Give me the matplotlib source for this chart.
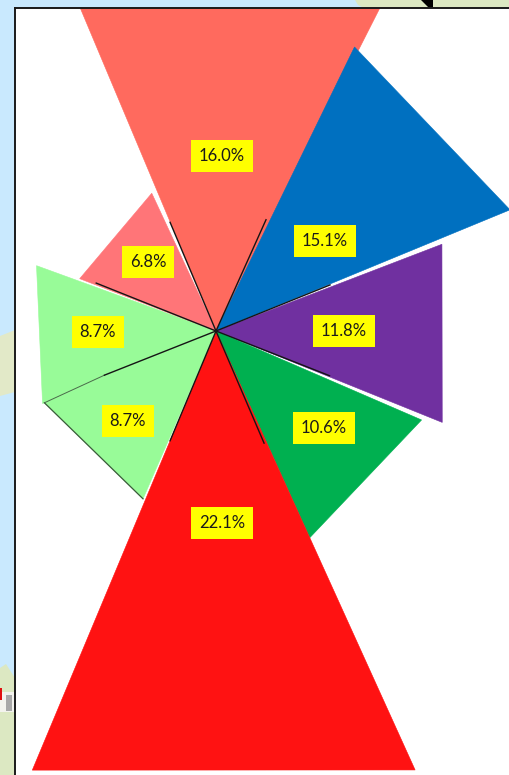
"""Triangular rose chart on top of a map fragment"""

import numpy as np
import matplotlib
matplotlib.use('Agg')
import matplotlib.pyplot as plt
from matplotlib.patches import Polygon, Rectangle

# wedge data, clockwise from the top wedge
share_labels = ['16.0%', '15.1%', '11.8%', '10.6%', '22.1%', '8.7%', '8.7%', '6.8%']
angle_start = [-22.8, 26.0, 69.0, 113.4, 155.6, 203.5, 247.3, 291.0]
angle_end = [26.9, 67.6, 112.0, 155.6, 202.7, 247.3, 290.0, 335.0]
radius_start = [350, 316, 242, 224, 482, 183, 188, 146]
radius_end = [362, 318, 244, 227, 476, 186, 191, 152]
wedge_colors = ['#FF6A5E', '#0070C0', '#7030A0', '#00B050', '#FF1212', '#98FB98', '#98FB98', '#FF7578']

# where the yellow labels sit
label_x = [222, 325, 344, 324, 222, 128, 98, 148]
label_y = [155, 240, 330, 427, 522, 420, 331, 261]

# short black spokes out of the centre
spoke_angles = [-22.9, 24.2, 68.0, 111.5, 156.8, 202.7, 248.4, 291.8]
spoke_lengths = [118, 122, 123, 122, 122, 119, 120, 129]

center = (216, 331)


def polar_point(angle, radius):
    a = np.radians(angle)
    return center[0] + radius * np.sin(a), center[1] - radius * np.cos(a)


fig = plt.figure(figsize=(5.10, 7.75), dpi=100)

# map behind the panel
bg = fig.add_axes([0, 0, 1, 1])
bg.set_xlim(0, 510)
bg.set_ylim(775, 0)
bg.axis('off')
bg.add_patch(Rectangle((0, 0), 510, 775, color='#C9E9FE', lw=0))
land = '#DCE8C2'
bg.add_patch(Polygon([(355, 0), (510, 0), (510, 10), (368, 10), (358, 5)], color=land, lw=0))
bg.add_patch(Polygon([(0, 336), (15, 330), (15, 392), (0, 396)], color='#E2E9C8', lw=0))
bg.add_patch(Polygon([(0, 668), (6, 664), (15, 678), (15, 775), (0, 775)], color=land, lw=0))
bg.add_patch(Rectangle((0, 692), 15, 20, color='#F3F3EE', lw=0))
bg.add_patch(Rectangle((6, 695), 6, 16, color='#A8A8A8', lw=0))
bg.add_patch(Rectangle((0, 688), 2, 12, color='#E01010', lw=0))
bg.add_patch(Polygon([(421, 0), (433, 0), (433, 9), (430, 9)], color='black', lw=0))

# white panel with the wedges
ax = fig.add_axes([15 / 510, 0, 495 / 510, 767 / 775])
ax.set_xlim(15, 510)
ax.set_ylim(775, 8)
ax.set_xticks([])
ax.set_yticks([])
for side in ['right', 'bottom']:
    ax.spines[side].set_visible(False)
for side in ['left', 'top']:
    ax.spines[side].set_linewidth(1.4)
    ax.spines[side].set_color('#1a1a1a')

for a0, a1, r0, r1, col in zip(angle_start, angle_end, radius_start, radius_end, wedge_colors):
    pts = [center, polar_point(a0, r0), polar_point(a1, r1)]
    ax.add_patch(Polygon(pts, closed=True, facecolor=col, edgecolor=col, lw=0.4, zorder=2))

# dark outer edge of the lower light green wedge
ax.plot(*zip(polar_point(angle_start[5], radius_start[5]), polar_point(angle_end[5], radius_end[5])),
        color='#3a5a3a', lw=0.9, zorder=3)
# and the thin grey rest of the line between the two light green wedges
ax.plot(*zip(polar_point(spoke_angles[6], spoke_lengths[6]), polar_point(angle_end[5], radius_end[5])),
        color='#4a6a4a', lw=0.7, zorder=3)

for ang, length in zip(spoke_angles, spoke_lengths):
    ax.plot(*zip(center, polar_point(ang, length)), color='#151515', lw=1.0, zorder=4)

for lab, x, y in zip(share_labels, label_x, label_y):
    ax.text(x, y + 1, lab, ha='center', va='center', fontsize=12, family='Lato', color='#1a1a1a', zorder=5,
            bbox=dict(boxstyle='square,pad=0.48', facecolor='#FFFF00', edgecolor='none'))

fig.savefig('out.png', dpi=100)
